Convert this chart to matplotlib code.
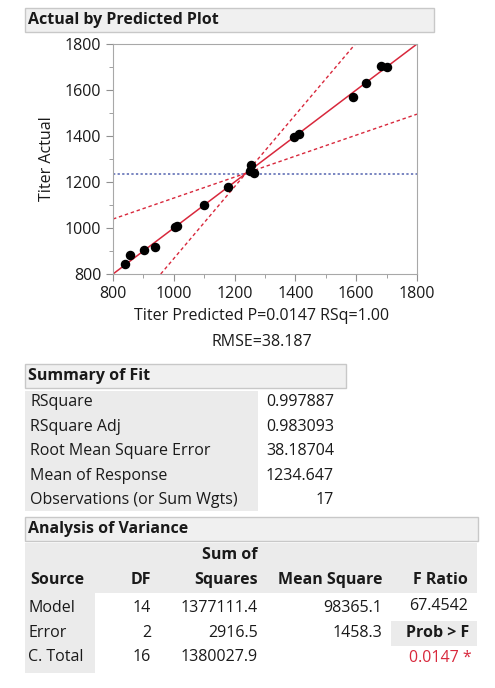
import numpy as np
import matplotlib.pyplot as plt
from matplotlib.patches import Rectangle

plt.rcParams['font.family'] = ['Open Sans', 'DejaVu Sans']

# --- data ---
predicted = [840, 857, 901, 938, 1003, 1010, 1100, 1177, 1254, 1250, 1265,
             1396, 1411, 1591, 1631, 1682, 1701]
actual = [842, 881, 903, 919, 1003, 1008, 1100, 1177, 1275, 1250, 1240,
          1396, 1410, 1568, 1630, 1704, 1698]
mean_response = 1234.647
ci_a_x = [800, 1800]
ci_a_y = [1039, 1495]
ci_b_x = [957, 1597]
ci_b_y = [800, 1800]

fit_labels = ["RSquare", "RSquare Adj", "Root Mean Square Error",
              "Mean of Response", "Observations (or Sum Wgts)"]
fit_values = ["0.997887", "0.983093", "38.18704", "1234.647", "17"]

anova_source = ["Model", "Error", "C. Total"]
anova_df = ["14", "2", "16"]
anova_ss = ["1377111.4", "2916.5", "1380027.9"]
anova_ms = ["98365.1", "1458.3", ""]
f_ratio = "67.4542"
prob_f = "0.0147 *"

W, H = 495, 688
fig = plt.figure(figsize=(W / 100, H / 100), dpi=100)
FS = 11.5
RED = '#d8283c'


def fx(x):
    return x / W


def fy(y):
    return 1 - y / H


def box(x0, y0, x1, y1, fc, ec='none'):
    fig.patches.append(Rectangle((fx(x0), fy(y1)), fx(x1) - fx(x0), fy(y0) - fy(y1),
                                 transform=fig.transFigure, fc=fc, ec=ec, lw=1))


def txt(x, y, s, ha='left', bold=False, color='#1a1a1a', size=FS):
    fig.text(fx(x), fy(y), s, ha=ha, va='center', fontsize=size,
             fontweight='bold' if bold else 'normal', color=color)


# plot section
box(25, 8, 434, 32, '#f0f0f0', '#c8c8c8')
txt(28, 20, "Actual by Predicted Plot", bold=True)

ax = fig.add_axes([fx(113), fy(274), fx(417) - fx(113), fy(44) - fy(274)])
ax.plot([800, 1800], [800, 1800], color=RED, lw=1.1, zorder=2)
ax.plot(ci_a_x, ci_a_y, color=RED, lw=1, ls=(0, (2.5, 2)), zorder=2)
ax.plot(ci_b_x, ci_b_y, color=RED, lw=1, ls=(0, (2.5, 2)), zorder=2)
ax.axhline(mean_response, color='#5565b0', lw=1.1, ls=(0, (1.5, 1.5)), zorder=1)
ax.scatter(predicted, actual, s=34, color='black', zorder=3)
ax.set_xlim(800, 1800)
ax.set_ylim(800, 1800)
ax.set_xticks(range(800, 1801, 200))
ax.set_yticks(range(800, 1801, 200))
ax.set_xticks(range(900, 1800, 200), minor=True)
ax.set_yticks(range(900, 1800, 200), minor=True)
ax.tick_params(which='both', direction='out', color='#909090', labelsize=FS,
               labelcolor='#1a1a1a')
ax.tick_params(which='major', length=5)
ax.tick_params(which='minor', length=3)
for sp in ax.spines.values():
    sp.set_color('#a8a8a8')
ax.set_ylabel("Titer Actual", fontsize=FS, color='#1a1a1a', labelpad=7)
txt(262, 316, "Titer Predicted P=0.0147 RSq=1.00", ha='center')
txt(262, 342, "RMSE=38.187", ha='center')

# summary of fit
box(25, 364, 346, 388, '#f0f0f0', '#c8c8c8')
txt(28, 376, "Summary of Fit", bold=True)
box(25, 391, 258, 511, '#ebebeb')
row_y = [402, 427, 451, 476, 500]
for lab, val, y in zip(fit_labels, fit_values, row_y):
    txt(30, y, lab)
    txt(334, y, val, ha='right')

# analysis of variance
box(25, 517, 478, 541, '#f0f0f0', '#c8c8c8')
txt(28, 529, "Analysis of Variance", bold=True)
box(25, 543, 477, 593, '#ebebeb')
box(25, 593, 95, 673, '#ebebeb')
txt(258, 555, "Sum of", ha='right', bold=True)
txt(30, 580, "Source", bold=True)
txt(151, 580, "DF", ha='right', bold=True)
txt(258, 580, "Squares", ha='right', bold=True)
txt(382, 580, "Mean Square", ha='right', bold=True)
txt(468, 580, "F Ratio", ha='right', bold=True)
anova_y = [608, 633, 657]
for src, df, ss, ms, y in zip(anova_source, anova_df, anova_ss, anova_ms, anova_y):
    txt(28, y, src)
    txt(151, y, df, ha='right')
    txt(258, y, ss, ha='right')
    txt(382, y, ms, ha='right')
txt(468, 606, f_ratio, ha='right')
box(391, 621, 477, 646, '#ebebeb')
txt(469, 633, "Prob > F", ha='right', bold=True)
txt(472, 658, prob_f, ha='right', color=RED)

fig.savefig("out.png", dpi=100)
